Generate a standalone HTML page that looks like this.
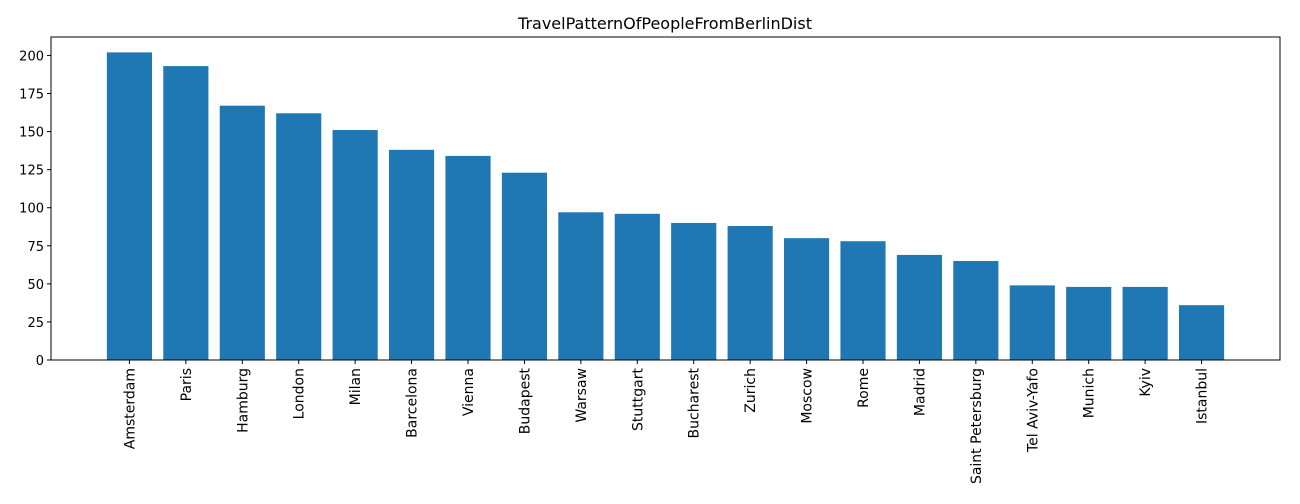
<!DOCTYPE html>
<html><head><meta charset="utf-8"><style>
body{margin:0;background:#fff;font-family:"DejaVu Sans","Liberation Sans",sans-serif;}
svg text{font-family:"DejaVu Sans","Liberation Sans",sans-serif;fill:#000;}
</style></head><body>
<svg id="chart" width="1300" height="500" xmlns="http://www.w3.org/2000/svg">
<rect width="1300" height="500" fill="#fff"/>
<text x="665" y="29" font-size="16" text-anchor="middle">TravelPatternOfPeopleFromBerlinDist</text>
<g id="bars"></g><g id="yticks"></g><g id="xticks"></g>
<rect x="51" y="37" width="1229" height="323" fill="none" stroke="#000" stroke-width="1"/>
</svg>
<script>
const categories=["Amsterdam","Paris","Hamburg","London","Milan","Barcelona","Vienna","Budapest","Warsaw","Stuttgart","Bucharest","Zurich","Moscow","Rome","Madrid","Saint Petersburg","Tel Aviv-Yafo","Munich","Kyiv","Istanbul"];
const values=[202,193,167,162,151,138,134,123,97,96,90,88,80,78,69,65,49,48,48,36];
const yTicks=[0,25,50,75,100,125,150,175,200];
const NS="http://www.w3.org/2000/svg";
const L=51,R=1280,T=37,B=360;
const n=categories.length;
const xmin=-0.4-0.05*(n-1+0.8),xmax=n-1+0.4+0.05*(n-1+0.8);
const ymax=Math.max(...values)*1.05;
const xs=v=>L+(v-xmin)/(xmax-xmin)*(R-L);
const ys=v=>B-v/ymax*(B-T);
function mk(t,a,p){const e=document.createElementNS(NS,t);for(const k in a)e.setAttribute(k,a[k]);p.appendChild(e);return e;}
const bars=document.getElementById('bars'),yt=document.getElementById('yticks'),xt=document.getElementById('xticks');
values.forEach((v,i)=>{
 const r=mk('rect',{x:xs(i-0.4),y:ys(v),width:xs(i+0.4)-xs(i-0.4),height:B-ys(v),fill:'#1f77b4'},bars);
 
 
 const x=xs(i);
 mk('line',{x1:x,x2:x,y1:B,y2:B+4,stroke:'#000'},xt);
 const t=mk('text',{x:0,y:0,'font-size':14,'text-anchor':'end',transform:`translate(${x+5},${B+8}) rotate(-90)`},xt);
 t.textContent=categories[i];
 
 
});
yTicks.forEach(v=>{
 const y=ys(v);
 mk('line',{x1:L-4,x2:L,y1:y,y2:y,stroke:'#000'},yt);
 const t=mk('text',{x:L-7,y:y+5,'font-size':13,'text-anchor':'end'},yt);
 t.textContent=v;
 
 
});
</script>
</body></html>
